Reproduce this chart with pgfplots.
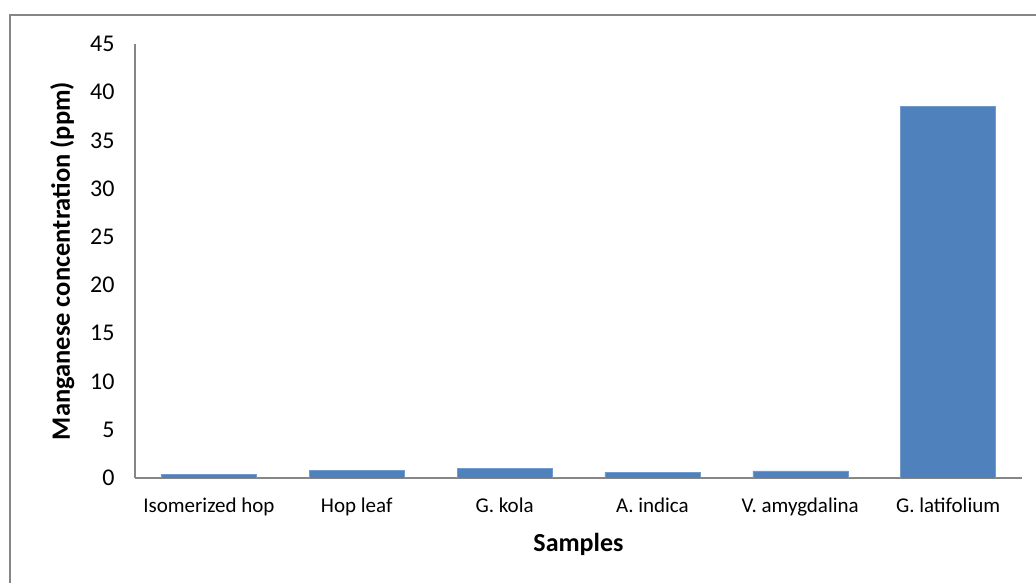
\documentclass[border=0pt]{standalone}
\usepackage{pgfplots}
\pgfplotsset{compat=1.18}
\usepackage{fontspec}
\setmainfont{Carlito}
\definecolor{barblue}{HTML}{4F81BD}
\definecolor{axisgray}{HTML}{868686}
\begin{document}
\begin{tikzpicture}[x=1pt,y=1pt]
\useasboundingbox (0,0) rectangle (1036,583);
% chart area frame
\draw[axisgray, line width=1.5pt] (10,568) rectangle (1045,-20);
\begin{axis}[
  at={(135pt,105pt)}, anchor=south west,
  scale only axis, width=887pt, height=434pt,
  ymin=0, ymax=45, ytick distance=5,
  xmin=-0.5, xmax=5.5,
  xtick=data,
  xticklabels={Isomerized hop, Hop leaf, G. kola, A. indica, V. amygdalina, G. latifolium},
  axis x line*=bottom, axis y line*=left,
  axis line style={axisgray, line width=1.2pt},
  x axis line style={-}, y axis line style={-},
  major tick length=0pt,
  tick style={draw=none},
  /pgf/number format/assume math mode=true,
  yticklabel style={font=\fontsize{24}{28}\selectfont, xshift=-17pt},
  xticklabel style={font=\fontsize{21}{25}\selectfont, anchor=base, yshift=-35pt},
  ylabel={\textbf{Manganese concentration (ppm)}},
  ylabel style={font=\fontsize{26.5}{30}\selectfont, at={(axis description cs:-0.0733,0.5)}, anchor=base},
  xlabel={\textbf{Samples}},
  xlabel style={font=\fontsize{26}{30}\selectfont, at={(axis description cs:0.5,-0.170)}, anchor=base},
  ybar, bar width=95pt,
]
\addplot[fill=barblue, draw=barblue!80!white] coordinates {
  (0,0.38) (1,0.80) (2,1.00) (3,0.62) (4,0.73) (5,38.5)
};
\end{axis}
\end{tikzpicture}
\end{document}
